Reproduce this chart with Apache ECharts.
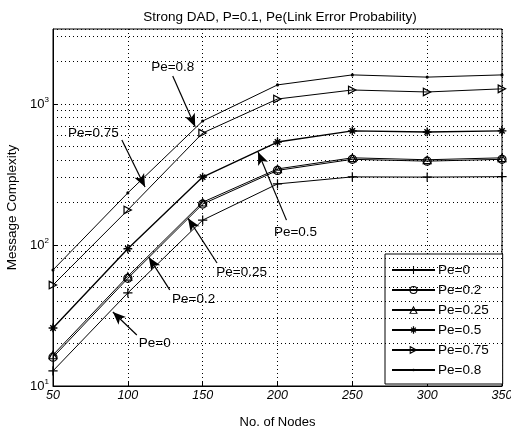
<!DOCTYPE html>
<html>
<head>
<meta charset="utf-8">
<script src="https://cdn.jsdelivr.net/npm/echarts@6/dist/echarts.min.js"></script>
<style>html,body{margin:0;background:#fff}#chart{width:511px;height:429px}</style>
</head>
<body>
<div id="chart"></div>
<script>
// values (log y axis)
const nodes = [50, 100, 150, 200, 250, 300, 350]
const pe0 = [12.8, 45.7, 150, 271, 304, 303, 305]
const pe02 = [16, 58, 195, 338, 405, 393, 405]
const pe025 = [16.6, 60, 201, 346, 415, 402, 415]
const pe05 = [25.8, 94, 303, 537, 644, 633, 644]
const pe075 = [52, 177, 622, 1084, 1256, 1216, 1280]
const pe08 = [66.5, 234, 757, 1365, 1607, 1550, 1607]

const names = ['Pe=0', 'Pe=0.2', 'Pe=0.25', 'Pe=0.5', 'Pe=0.75', 'Pe=0.8']
const yMinorGrid = [20, 30, 40, 50, 60, 70, 80, 90, 200, 300, 400, 500, 600, 700, 800, 900, 2000, 3000]

// arrow notes: label, text anchor, arrow tail, arrow head (data coords)
const notes = [
	['Pe=0.8', [130, 1830], [130, 1580], [145, 690]],
	['Pe=0.75', [77, 622], [96, 556], [111.5, 258]],
	['Pe=0.5', [212, 124], [206, 150], [187, 457]],
	['Pe=0.25', [176, 64.4], [159.6, 74.5], [140.2, 155]],
	['Pe=0.2', [144, 41.4], [128, 48], [114, 82]],
	['Pe=0', [118, 20.2], [106, 23], [90, 33.5]],
]

const FONT = 'Liberation Sans, Arial, sans-serif'
// tiny corner specks keep the symbol box 10x10 so small marks stay small
const box = 'M0,0L0.01,0L0,0.01Z M10,10L9.99,10L10,9.99Z '
const plusPath = 'path://' + box + 'M4.45,0.8h1.1v8.4h-1.1z M0.8,4.45h8.4v1.1h-8.4z'
const ringPath =
	'path://' + box + 'M5,0.8A4.2,4.2 0 1,1 5,9.2A4.2,4.2 0 1,1 5,0.8Z M5,1.9A3.1,3.1 0 1,0 5,8.1A3.1,3.1 0 1,0 5,1.9Z'
const triPath = 'path://' + box + 'M5,0.6L9.5,9L0.5,9Z M5,2.9L2.3,8L7.7,8Z'
const rightTriPath = 'path://' + box + 'M1,0.6L9.4,5L1,9.4Z M2.1,2.6L2.1,7.4L7,5Z'
const starPath =
	'path://' + box + 'M4.35,1h1.3v8h-1.3z M1,4.35h8v1.3h-8z M2.1,3L3,2.1L7.9,7L7,7.9z M7,2.1L7.9,3L3,7.9L2.1,7z M3.4,3.4h3.2v3.2h-3.2z'
const dotPath = 'path://' + box + 'M3.6,5A1.4,1.4 0 1,1 6.4,5A1.4,1.4 0 1,1 3.6,5Z'

var chart = echarts.init(document.getElementById('chart'))

const lineSeries = (name, values, symbol, extra) =>
	Object.assign(
		{
			name: name,
			type: 'line',
			data: nodes.map((n, i) => [n, values[i]]),
			symbol: symbol,
			symbolSize: 11,
			showAllSymbol: true,
			lineStyle: { color: '#000', width: 1 },
			itemStyle: { color: '#000', borderWidth: 0 },
			emphasis: { disabled: true },
			z: 3,
		},
		extra || {}
	)

var option = {
	animation: false,
	title: {
		text: 'Strong DAD, P=0.1, Pe(Link Error Probability)',
		left: 275,
		textAlign: 'center',
		top: 5,
		textStyle: { fontFamily: FONT, fontSize: 13.5, fontWeight: 'normal', color: '#000' },
	},
	grid: {
		left: 53,
		right: 9,
		top: 29,
		bottom: 43,
		outerBoundsMode: 'none',
		containLabel: false,
		show: true,
		borderColor: '#000',
		borderWidth: 1,
	},
	legend: {
		orient: 'vertical',
		left: 385,
		top: 254,
		data: names,
		itemWidth: 43,
		itemHeight: 12,
		itemGap: 6,
		padding: [9, 14, 7, 6],
		backgroundColor: '#fff',
		borderColor: '#000',
		borderWidth: 1,
		textStyle: {
			fontFamily: FONT,
			fontSize: 13.5,
			color: '#000',
			padding: [0, 0, 0, -2],
		},
	},
	xAxis: {
		type: 'value',
		min: 50,
		max: 350,
		interval: 50,
		name: 'No. of Nodes',
		nameLocation: 'middle',
		nameGap: 30,
		nameTextStyle: { fontFamily: FONT, fontSize: 13, color: '#000' },
		axisLine: { lineStyle: { color: '#000', width: 1 } },
		axisTick: { inside: true, length: 4, lineStyle: { color: '#000' } },
		axisLabel: { fontFamily: FONT, fontSize: 12.5, fontStyle: 'italic', color: '#000', margin: 3 },
		splitLine: { show: true, lineStyle: { color: '#000', type: [1, 3], width: 1 } },
	},
	yAxis: {
		type: 'log',
		logBase: 10,
		min: 10,
		max: 3400,
		interval: 1,
		name: 'Message Complexity',
		nameLocation: 'middle',
		nameGap: 34,
		nameTextStyle: { fontFamily: FONT, fontSize: 13.5, color: '#000' },
		axisLine: { lineStyle: { color: '#000', width: 1 } },
		axisTick: { inside: true, length: 4, lineStyle: { color: '#000' } },
		axisLabel: {
			color: '#000',
			margin: 4,
			showMaxLabel: false,
			formatter: (v) => {
				const e = Math.round(Math.log10(v))
				return Math.abs(Math.pow(10, e) - v) < 1e-6 * v ? '{b|10}{s|' + e + '}' : ''
			},
			rich: {
				b: { fontFamily: FONT, fontSize: 13, color: '#000' },
				s: { fontFamily: FONT, fontSize: 8, color: '#000', padding: [0, 0, 9, 0] },
			},
		},
		splitLine: { show: true, lineStyle: { color: '#000', type: [1, 3], width: 1 } },
	},
	series: [
		lineSeries('Pe=0', pe0, plusPath),
		lineSeries('Pe=0.2', pe02, ringPath),
		lineSeries('Pe=0.25', pe025, triPath),
		lineSeries('Pe=0.5', pe05, starPath, { lineStyle: { color: '#000', width: 1.4 } }),
		lineSeries('Pe=0.75', pe075, rightTriPath),
		lineSeries('Pe=0.8', pe08, dotPath),
		{
			name: 'grid',
			type: 'line',
			data: [],
			silent: true,
			markLine: {
				silent: true,
				symbol: ['none', 'none'],
				label: { show: false },
				lineStyle: { color: '#000', type: [1, 3], width: 1 },
				data: yMinorGrid.map((v) => ({ yAxis: v })),
			},
		},
		{
			name: 'notes',
			type: 'line',
			data: [],
			silent: true,
			z: 5,
			markLine: {
				silent: true,
				symbol: ['none', 'arrow'],
				symbolSize: 12,
				label: { show: false },
				lineStyle: { color: '#000', type: 'solid', width: 1.2 },
				data: notes.map((n) => [
					{ coord: n[2], symbol: 'none' },
					{ coord: n[3], symbol: 'arrow', symbolSize: [8, 13] },
				]),
			},
			markPoint: {
				silent: true,
				symbol: 'circle',
				symbolSize: 0,
				label: {
					show: true,
					position: 'inside',
					fontFamily: FONT,
					fontSize: 13.5,
					color: '#000',
					formatter: (p) => p.name,
				},
				data: notes.map((n) => ({ name: n[0], coord: n[1] })),
			},
		},
	],
}

chart.setOption(option)
</script>
</body>
</html>
